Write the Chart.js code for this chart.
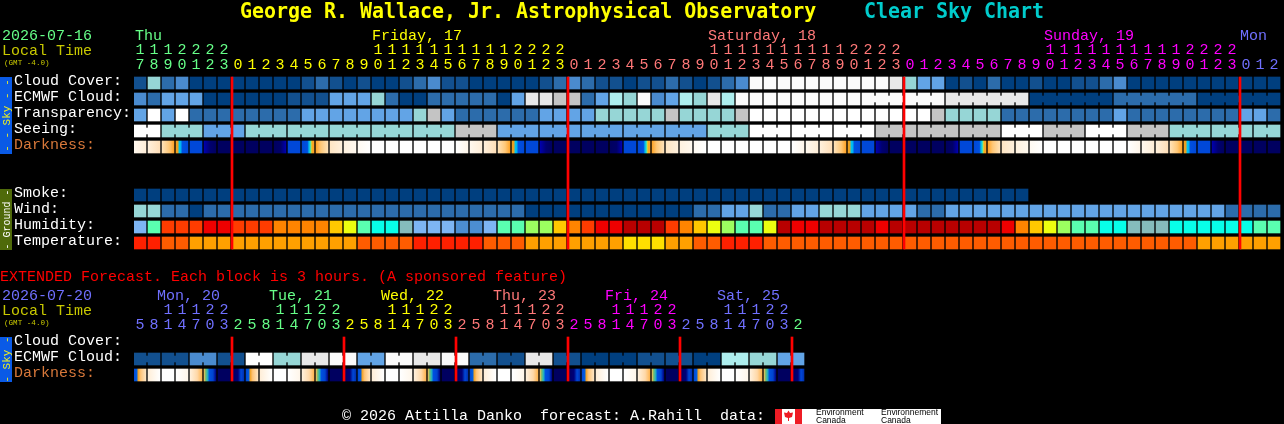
<!DOCTYPE html>
<html><head><meta charset="utf-8">
<script src="https://cdn.jsdelivr.net/npm/chart.js@4"></script>
<style>html,body{margin:0;padding:0;background:#000;width:1284px;height:424px;overflow:hidden}
canvas{position:absolute;left:0;top:0}</style></head>
<body><canvas id="main" width="1284" height="424"></canvas><canvas id="ext" width="1284" height="424"></canvas>
<script>
// ---------- data: main (hourly) chart ----------
const mainHours=[17,18,19,20,21,22,23,0,1,2,3,4,5,6,7,8,9,10,11,12,13,14,15,16,17,18,19,20,21,22,23,0,1,2,3,4,5,6,7,8,9,10,11,12,13,14,15,16,17,18,19,20,21,22,23,0,1,2,3,4,5,6,7,8,9,10,11,12,13,14,15,16,17,18,19,20,21,22,23,0,1,2];
const mainRowNames=['Cloud Cover:','ECMWF Cloud:','Transparency:','Seeing:','Darkness:','','','Smoke:','Wind:','Humidity:','Temperature:'];
const cloudCover=[1,5,2,3,0,0,0,0,0,0,0,0,1,2,1,0,1,0,0,1,2,3,1,1,0,0,0,0,0,1,2,3,2,1,1,0,1,1,2,1,0,1,2,3,9,9,9,9,9,9,9,9,9,9,8,5,4,4,0,1,0,2,0,0,1,0,0,1,1,2,3,0,0,0,0,0,0,0,0,0,0,0];
const ecmwfCloud=[3,2,4,4,4,0,0,0,0,0,0,1,1,1,4,4,4,5,2,0,0,2,2,2,2,2,0,4,8,8,7,7,2,4,6,5,9,3,4,6,5,8,6,9,9,9,9,9,9,9,9,9,9,9,9,9,9,9,8,8,8,8,8,8,0,0,0,0,0,0,2,2,2,2,2,2,0,0,0,0,0,0];
const transparency=[4,10,4,10,2,2,2,2,2,2,2,2,4,4,4,4,4,4,4,4,5,7,4,2,2,2,2,2,2,4,4,4,4,5,5,5,5,5,7,5,5,5,5,7,10,10,10,10,10,10,10,10,10,10,10,10,10,7,5,5,5,5,2,2,2,2,2,2,2,2,4,2,2,2,2,2,2,2,2,4,4,2];
const seeing=[10,10,5,5,5,4,4,4,5,5,5,5,5,5,5,5,5,5,5,5,5,5,5,7,7,7,4,4,4,4,4,4,4,4,4,4,4,4,4,4,4,5,5,5,10,10,10,10,10,10,10,10,10,7,7,7,7,7,7,7,7,7,10,10,10,7,7,7,10,10,10,7,7,7,5,5,5,5,5,5,5,5];
const darkness=[1,2,3,4,5,6,7,7,7,7,8,9,10,11,12,13,14,0,0,0,0,0,0,15,1,2,3,4,5,6,7,7,7,7,8,9,10,11,12,13,14,0,0,0,0,0,0,15,1,2,3,4,5,6,7,7,7,7,8,9,10,11,12,13,14,0,0,0,0,0,0,15,1,2,3,4,5,6,7,7,7,7];
const smoke=[0,0,0,0,0,0,0,0,0,0,0,0,0,0,0,0,0,0,0,0,0,0,0,0,0,0,0,0,0,0,0,0,0,0,0,0,0,0,0,0,0,0,0,0,0,0,0,0,0,0,0,0,0,0,0,0,0,0,0,0,0,0,0,0];
const wind=[5,5,2,2,0,2,2,2,2,2,2,2,2,2,2,2,2,2,2,2,2,2,2,2,2,2,2,2,0,0,0,0,0,0,0,0,0,0,0,0,2,2,4,4,5,2,2,4,4,5,5,5,4,4,4,4,2,2,4,4,4,4,4,4,4,4,4,4,4,4,4,4,4,4,4,4,4,4,2,2,2,2];
const humidity=[0,4,9,9,9,10,10,9,9,9,8,8,8,8,7,6,4,3,3,2,0,0,0,1,1,0,4,4,5,5,7,8,9,10,10,11,11,11,9,8,7,6,5,4,4,6,11,10,10,11,11,11,11,10,11,11,11,11,11,11,11,11,10,8,7,6,5,4,4,3,3,2,2,2,3,3,3,3,3,3,4,4];
const temperature=[0,0,1,1,2,2,2,2,2,2,2,2,2,2,2,2,1,1,1,1,0,0,0,0,0,1,1,1,2,2,2,2,2,2,2,3,3,3,2,2,1,1,0,0,0,1,1,1,1,1,1,1,1,1,1,1,1,1,1,1,1,1,1,1,1,1,1,1,1,1,1,1,1,1,1,1,2,2,2,2,2,2];
const seeingGroups=[2,3,3,3,3,3,3,3,3,3,3,3,3,3,3,3,3,3,3,3,3,3,3,3,3,3,3,2];
const ecmwfJoinedFrom=52, ecmwfGroups=[6,6,6,6,6];
const midnightCols=[7,31,55,79];
const mainDays=['Thu','Friday, 17','Saturday, 18','Sunday, 19','Mon'];
const mainDayCols=[0.07,17,41,65,79];
const mainDayColors=['#66ff88','#ffff00','#ff7878','#ff00ff','#7070ff'];
const mainHourColorRuns=[7,24,24,24,3];

// ---------- data: extended (3 hourly) chart ----------
const extHours=[5,8,11,14,17,20,23,2,5,8,11,14,17,20,23,2,5,8,11,14,17,20,23,2,5,8,11,14,17,20,23,2,5,8,11,14,17,20,23,2,5,8,11,14,17,20,23,2];
const extRowNames=['Cloud Cover:','ECMWF Cloud:','Darkness:'];
const extEcmwf=[1,1,1,1,3,3,1,1,10,10,5,5,8,8,9,9,4,4,9,9,8,8,9,9,2,2,1,1,8,8,1,1,0,0,0,0,1,1,1,1,0,0,6,6,5,5,4,4];
const extDarkness=[16,17,0,18,19,20,7,21,16,17,0,18,19,20,7,21,16,17,0,18,19,20,7,21,16,17,0,18,19,20,7,21,16,17,0,18,19,20,7,21,16,17,0,18,19,20,7,21];
const extEcmwfGroups=[2,2,2,2,2,2,2,2,2,2,2,2,2,2,2,2,2,2,2,2,2,2,2,2];
const extMidnightCols=[7,15,23,31,39,47];
const extDays=['Mon, 20','Tue, 21','Wed, 22','Thu, 23','Fri, 24','Sat, 25'];
const extDayCols=[1.65,9.65,17.65,25.65,33.65,41.65];
const extDayColors=['#7070ff','#66ff88','#ffff00','#ff7878','#ff00ff','#7070ff'];
const extHourColorRuns=[7,8,8,8,8,8,1];
const extHourColors=['#7070ff','#66ff88','#ffff00','#ff7878','#ff00ff','#7070ff','#66ff88'];

// ---------- palettes ----------
const skyPalette=['#003f7f','#12508f','#2c6cab','#4a8bcf','#62a4e6','#96d6d6','#aeeeee','#c4c4c4','#e8e8e8','#fafafa','#ffffff'];
const humidityPalette=['#7db5f3','#4c8ed2','#85bcbc','#08ffe8','#5affb0','#9cff60','#ecff10','#ffc800','#ff8400','#ff3c00','#ee0000','#b80000'];
const tempPalette=['#ff2000','#ff5c00','#ffa000','#ffdf00'];
const darkStops=[
 [[0,'#ffffff'],[1,'#ffffff']],
 [[0,'#fff8ee'],[1,'#ffeed8']],
 [[0,'#fff0dc'],[1,'#ffdfb8']],
 [[0,'#ffe2b8'],[.6,'#ffc878'],[1,'#ffa428']],
 [[0,'#f0a020'],[.17,'#e8a020'],[.25,'#00c8f0'],[.42,'#00b0f0'],[.5,'#0050e0'],[1,'#0048d8']],
 [[0,'#0048d8'],[1,'#0048d8']],
 [[0,'#0000b0'],[.5,'#000070'],[1,'#000060']],
 [[0,'#000060'],[1,'#000060']],
 [[0,'#000060'],[.55,'#000068'],[1,'#0000b0']],
 [[0,'#0048d8'],[1,'#0048d8']],
 [[0,'#0048d8'],[.45,'#0050e0'],[.55,'#00a0e8'],[.68,'#20e0d8'],[.78,'#c8d840'],[.85,'#f8a820'],[1,'#ffa428']],
 [[0,'#ffa428'],[.4,'#ffc878'],[1,'#ffe2b8']],
 [[0,'#ffe6c4'],[1,'#fff0dc']],
 [[0,'#fff2e0'],[1,'#fff8ee']],
 [[0,'#fffaf2'],[1,'#ffffff']],
 [[0,'#ffffff'],[1,'#fff6ea']],
 [[0,'#0048d8'],[.25,'#0060e0'],[.33,'#f0a020'],[.55,'#ffc478'],[1,'#ffe6c4']],
 [[0,'#ffeed8'],[1,'#ffffff']],
 [[0,'#ffffff'],[1,'#fff6ea']],
 [[0,'#fff0dc'],[.6,'#ffd8a8'],[1,'#ffb450']],
 [[0,'#ffc060'],[.1,'#90c060'],[.3,'#20b0c0'],[.45,'#0050e0'],[.75,'#0044d0'],[1,'#000080']],
 [[0,'#000060'],[.5,'#000078'],[.75,'#0048d8'],[1,'#0030b0']]
];

// ---------- helpers ----------
const CELL=14, CELLW=12, ROWPX=16, CELLH=12;
const cellCentre=i=>i+(CELLW/2)/CELL;
const rowTop=r=>r+(ROWPX-CELLH)/2/ROWPX, rowBot=r=>r+1-(ROWPX-CELLH)/2/ROWPX;

function cells(values,row,palette){
  return {data:values.map((v,i)=>({x:cellCentre(i),y:[rowTop(row),rowBot(row)]})),
          backgroundColor:values.map(v=>palette[v]),barThickness:CELLW,order:2};
}
function darkCells(values,row){
  return {data:values.map((v,i)=>({x:cellCentre(i),y:[rowTop(row),rowBot(row)]})),
    backgroundColor(c){
      const xs=c.chart.scales.x;
      const px=xs?xs.getPixelForValue(cellCentre(c.dataIndex)):NaN;
      if(!Number.isFinite(px)) return '#000000';
      const g=c.chart.ctx.createLinearGradient(px-CELLW/2,0,px+CELLW/2,0);
      darkStops[values[c.dataIndex]].forEach(s=>g.addColorStop(s[0],s[1]));
      return g;
    },barThickness:CELLW,order:2};
}
function joins(values,row,groups,start,palette){
  const d=[],col=[];let i=start;
  groups.forEach(n=>{for(let k=0;k<n-1;k++){const j=i+k;
    d.push({x:j+1-1/CELL,y:[row+5/16,row+11/16]});col.push(palette[values[j]]);}
    i+=n;});
  return {data:d,backgroundColor:col,barThickness:2,order:3};
}
function redLines(cols,nRows){
  return {data:cols.map(c=>({x:c,y:[rowTop(0),rowBot(nRows-1)]})),backgroundColor:'#ff0000',barThickness:2,order:0};
}
const MONO='"Liberation Mono"';
function expandColors(runs,cols){const o=[];runs.forEach((n,k)=>{for(let i=0;i<n;i++)o.push(cols[k]);});return o;}
function txt(c,s,x,y,col,font){c.font=font||('15px '+MONO);c.fillStyle=col;c.textBaseline='alphabetic';c.textAlign='left';c.fillText(s,x,y);}
function titleTxt(c,s,x,y,col){c.save();c.translate(x,y);c.scale(.997,1.1);c.font='bold 20px "DejaVu Sans Mono"';c.fillStyle=col;c.textBaseline='alphabetic';c.textAlign='left';c.fillText(s,0,0);c.restore();}
function sideBlock(c,top,bot,bg,fg,label,size){
  c.fillStyle=bg;c.fillRect(0,top,12,bot-top);
  c.save();c.translate(10,(top+bot)/2);c.rotate(-Math.PI/2);
  c.font=size+'px '+MONO;c.fillStyle=fg;c.textAlign='center';c.textBaseline='alphabetic';c.fillText(label,0,0);c.restore();
}

function makeChart(id,cfg){
  return new Chart(document.getElementById(id),{
    type:'bar',
    data:{datasets:cfg.datasets},
    options:{
      animation:false,responsive:false,devicePixelRatio:1,
      layout:{padding:{left:14,right:2,top:0,bottom:cfg.bottom}},
      datasets:{bar:{grouped:false,borderWidth:0,borderSkipped:false}},
      plugins:{legend:{display:false},tooltip:{enabled:false},title:{display:false}},
      scales:{
        x:{type:'linear',position:'top',min:0,max:82,offset:false,
          grid:{display:false,drawTicks:false},border:{display:false},
          afterBuildTicks(s){s.ticks=cfg.hours.map((h,i)=>({value:cellCentre(i)}));},
          afterFit(s){s.height=cfg.top;},
          ticks:{autoSkip:false,maxRotation:0,minRotation:0,padding:cfg.tickPad,
            font:{family:'Liberation Mono',size:15,lineHeight:1},
            color:c=>cfg.hourColors[c.index],
            callback:(v,i)=>{const h=cfg.hours[i];return [h>=10?String(Math.floor(h/10)):'',String(h%10)];}}},
        y:{type:'linear',position:'left',reverse:true,min:0,max:cfg.names.length,
          grid:{display:false,drawTicks:false},border:{display:false},
          afterBuildTicks(s){s.ticks=cfg.names.map((n,i)=>({value:i+.5}));},
          afterFit(s){s.width=120;},
          ticks:{autoSkip:false,crossAlign:'far',padding:0,labelOffset:-1.5,
            font:{family:'Liberation Mono',size:15},
            color:c=>cfg.names[c.index]==='Darkness:'?'#d8783a':'#ffffff',
            callback:(v,i)=>cfg.names[i]}}
      }
    },
    plugins:[{id:'texts',afterDraw:cfg.draw}]
  });
}

// ---------- main chart ----------
const mainHourColors=expandColors(mainHourColorRuns,mainDayColors);
makeChart('main',{
  hours:mainHours,names:mainRowNames,hourColors:mainHourColors,top:75,bottom:173,tickPad:2,
  datasets:[
    redLines(midnightCols,mainRowNames.length),
    cells(cloudCover,0,skyPalette),
    cells(ecmwfCloud,1,skyPalette),
    joins(ecmwfCloud,1,ecmwfGroups,ecmwfJoinedFrom,skyPalette),
    cells(transparency,2,skyPalette),
    cells(seeing,3,skyPalette),
    joins(seeing,3,seeingGroups,0,skyPalette),
    darkCells(darkness,4),
    cells(smoke,7,skyPalette),
    cells(wind,8,skyPalette),
    cells(humidity,9,humidityPalette),
    cells(temperature,10,tempPalette)
  ],
  draw(ch){
    const c=ch.ctx,x=ch.scales.x;c.save();
    titleTxt(c,'George R. Wallace, Jr. Astrophysical Observatory',240,18,'#ffff00');
    titleTxt(c,'Clear Sky Chart',864,18,'#00cccc');
    txt(c,'2026-07-16',2,40,'#66ff88');
    txt(c,'Local Time',2,55,'#c8c800');
    txt(c,'(GMT -4.0)',4,65,'#c8c800','7.6px '+MONO);
    mainDays.forEach((d,i)=>txt(c,d,x.getPixelForValue(mainDayCols[i]),40,mainDayColors[i]));
    sideBlock(c,77,154,'#0a5ae6','#f0f020','- - Sky - -',11);
    sideBlock(c,189,250,'#4f6a0a','#ffffff','- Ground -',10);
    c.restore();
  }
});

// ---------- extended chart ----------
makeChart('ext',{
  hours:extHours,names:extRowNames,hourColors:expandColors(extHourColorRuns,extHourColors),top:335,bottom:41,tickPad:2,
  datasets:[
    redLines(extMidnightCols,extRowNames.length),
    cells(extEcmwf,1,skyPalette),
    joins(extEcmwf,1,extEcmwfGroups,0,skyPalette),
    darkCells(extDarkness,2)
  ],
  draw(ch){
    const c=ch.ctx,x=ch.scales.x;c.save();
    txt(c,'EXTENDED Forecast. Each block is 3 hours. (A sponsored feature)',0,281,'#ff0000');
    txt(c,'2026-07-20',2,300,'#7070ff');
    txt(c,'Local Time',2,315,'#c8c800');
    txt(c,'(GMT -4.0)',4,325,'#c8c800','7.6px '+MONO);
    extDays.forEach((d,i)=>txt(c,d,x.getPixelForValue(extDayCols[i]),300,extDayColors[i]));
    sideBlock(c,337,382,'#0a5ae6','#f0f020','- Sky -',11);
    txt(c,'\u00a9 2026 Attilla Danko  forecast: A.Rahill  data:',342,420,'#ffffff');
    c.fillStyle='#ffffff';c.fillRect(775,409,166,15);
    c.fillStyle='#ee1c25';c.fillRect(775,409,7,15);c.fillRect(795,409,7,15);
    c.beginPath();c.moveTo(788.5,410.5);c.lineTo(790,413);c.lineTo(793,412.5);c.lineTo(792,417);c.lineTo(789,418);c.lineTo(789,421);c.lineTo(788,421);c.lineTo(788,418);c.lineTo(785,417);c.lineTo(784,412.5);c.lineTo(787,413);c.closePath();c.fill();
    const sf='8.5px "Liberation Sans"';
    txt(c,'Environment',816,415,'#000000',sf);txt(c,'Canada',816,423,'#000000',sf);
    txt(c,'Environnement',881,415,'#000000',sf);txt(c,'Canada',881,423,'#000000',sf);
    c.restore();
  }
});
</script></body></html>
